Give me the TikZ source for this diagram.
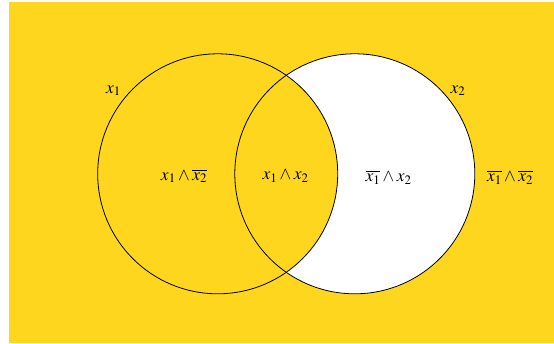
\documentclass[tikz,border=0pt]{standalone}
\usepackage{amsmath}
\usepackage{mathptmx}
\usetikzlibrary{positioning}
\definecolor{venngold}{RGB}{254,214,30}
\tikzset{ring/.style={draw=black,line width=0.8pt},
  lbl/.style={font=\fontsize{17.5}{21}\selectfont,anchor=base,inner sep=0pt}}

\begin{document}
\begin{tikzpicture}[x=1pt,y=-1pt]
\useasboundingbox (0,0) rectangle (554,343);
\fill[venngold] (9,2) rectangle (554,343);
\coordinate (c1) at (217.7,173.8);
\coordinate (c2) at (354.8,173.8);
% crescent of x2 only
\fill[white] (c2) circle[radius=120];
\fill[venngold] (c1) circle[radius=120];
\draw[ring] (c1) circle[radius=120];
\draw[ring] (c2) circle[radius=120];
% labels
\node[lbl] (setA) at (113.5,93) {$x_1$};
\node[lbl] (setB) at (458,93) {$x_2$};
\node[lbl] (onlyA) at (184,180) {$x_1\wedge\overline{x_2}$};
\node[lbl] (both) at (285.5,179.5) {$x_1\wedge x_2$};
\node[lbl] (onlyB) at (388.5,181.5) {$\overline{x_1}\wedge x_2$};
\node[lbl] (none) at (510,181.5) {$\overline{x_1}\wedge\overline{x_2}$};
\end{tikzpicture}
\end{document}
